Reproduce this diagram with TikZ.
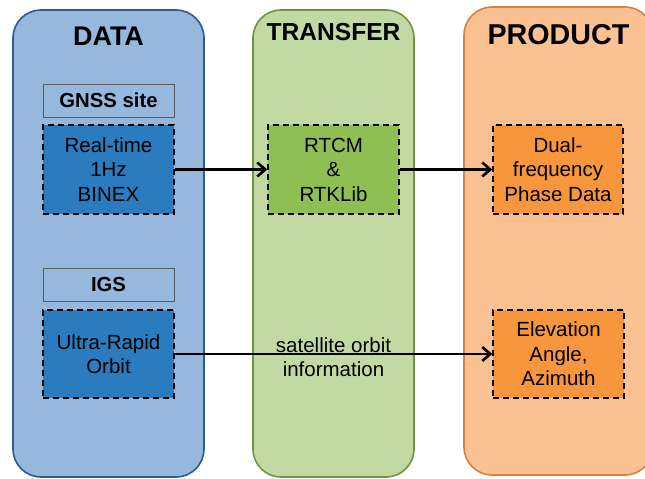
\documentclass[tikz,border=0pt]{standalone}
\usepackage{fontspec}
\setmainfont{Liberation Sans}
\usetikzlibrary{arrows.meta}
\definecolor{dataFill}{HTML}{95B8DC}
\definecolor{dataLine}{HTML}{2F5A8C}
\definecolor{dataIn}{HTML}{2B7CBF}
\definecolor{tranFill}{HTML}{C3D9A4}
\definecolor{tranLine}{HTML}{70953F}
\definecolor{tranIn}{HTML}{8FBF52}
\definecolor{prodFill}{HTML}{FAC192}
\definecolor{prodLine}{HTML}{D9803C}
\definecolor{prodIn}{HTML}{F8963D}
\definecolor{hdrLine}{HTML}{5A5A5A}
\tikzset{
  column/.style={draw, line width=1.6pt, rounded corners=28pt, minimum width=#1, minimum height=467pt, inner sep=0pt},
  coltitle/.style={font=\fontsize{27}{30}\selectfont\bfseries, inner sep=0pt},
  hdrbox/.style={draw=hdrLine, line width=1pt, fill=dataFill, minimum width=131pt, minimum height=33pt, inner sep=0pt, font=\fontsize{20.3}{24}\selectfont\bfseries},
  dbox/.style={draw=black, line width=1.5pt, dash pattern=on 6pt off 4pt, minimum width=131pt, minimum height=89pt, inner sep=0pt, align=center, font=\fontsize{20.5}{24.5}\selectfont},
  conn/.style={line width=2.6pt, -{Straight Barb[length=8pt,width=14pt,line width=2.6pt]}},
  lbl/.style={inner sep=0pt, align=center, font=\fontsize{20.5}{24.5}\selectfont}
}
\begin{document}
\begin{tikzpicture}[x=1pt,y=-1pt]
\useasboundingbox (0,0) rectangle (645,479);
\clip (0,0) rectangle (645,479);
% columns
\node[column=191pt, fill=dataFill, draw=dataLine] (datacol) at (108.5,243.5) {};
\node[column=161pt, fill=tranFill, draw=tranLine] (trancol) at (333.5,243.5) {};
\node[column=189pt, fill=prodFill, draw=prodLine, minimum height=468pt] (prodcol) at (558.5,241) {};
% titles
\node[coltitle] (datat) at (108.5,36) {DATA};
\node[coltitle, font=\fontsize{24.6}{28}\selectfont\bfseries] (trant) at (333.5,32) {TRANSFER};
\node[coltitle, font=\fontsize{28.7}{32}\selectfont\bfseries] (prodt) at (558.5,35) {PRODUCT};
% data column
\node[hdrbox] (gnss) at (108.5,100.5) {GNSS site};
\node[dbox, fill=dataIn] (rt) at (108.5,169.5) {Real-time\\1Hz\\BINEX};
\node[hdrbox] (igs) at (108.5,284.5) {IGS};
\node[dbox, fill=dataIn, minimum height=88pt] (ura) at (108.5,354) {Ultra-Rapid\\Orbit};
% transfer column
\node[dbox, fill=tranIn] (rtcm) at (333.5,169.5) {RTCM\\\&\\RTKLib};
% product column
\node[dbox, fill=prodIn, minimum width=130pt] (dual) at (558,169.5) {Dual-\\frequency\\Phase Data};
\node[dbox, fill=prodIn, minimum height=88pt] (elev) at (558.5,354) {Elevation\\Angle,\\Azimuth};
% connectors
\draw[conn] (rt.east) -- (rtcm.west);
\draw[conn] (rtcm.east) -- (dual.west);
\draw[conn] (ura.east) -- (elev.west);
\node[lbl] (orblbl) at (333.5,357) {satellite orbit\\information};
\end{tikzpicture}
\end{document}
